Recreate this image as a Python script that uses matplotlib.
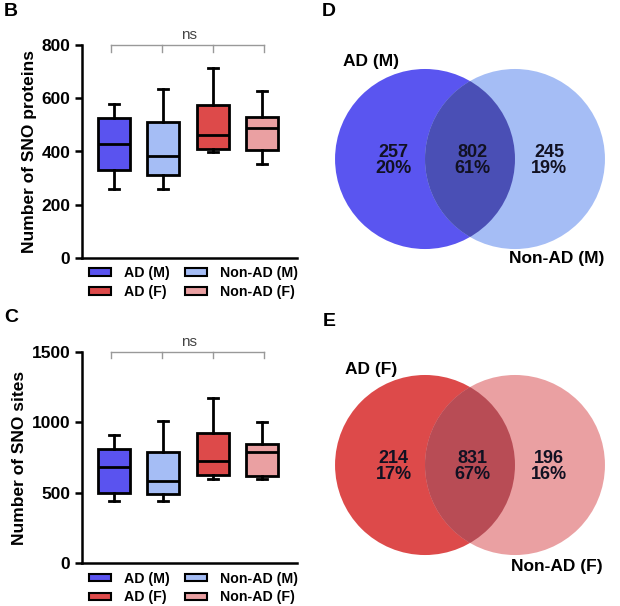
import matplotlib
matplotlib.use("Agg")
import matplotlib.pyplot as plt
from matplotlib.patches import Circle, Patch

plt.rcParams['font.family'] = ['Liberation Sans', 'DejaVu Sans']
plt.rcParams['font.weight'] = 'bold'

# groups / colours
groups = ['AD (M)', 'Non-AD (M)', 'AD (F)', 'Non-AD (F)']
box_colors = ['#5a53ef', '#a5bdf5', '#dd4a4a', '#eaa0a2']

# panel B - SNO proteins (box stats)
prot_whislo = [259, 259, 398, 353]
prot_q1 = [331, 312, 409, 406]
prot_med = [428, 383, 462, 488]
prot_q3 = [526, 511, 575, 530]
prot_whishi = [578, 635, 714, 627]

# panel C - SNO sites
site_whislo = [441, 441, 597, 597]
site_q1 = [498, 490, 626, 618]
site_med = [682, 583, 725, 789]
site_q3 = [810, 789, 924, 846]
site_whishi = [910, 1009, 1173, 1002]

# venn panels
venn_m_counts = [257, 802, 245]
venn_m_pct = ['20%', '61%', '19%']
venn_m_labels = ['AD (M)', 'Non-AD (M)']
venn_m_colors = ['#5a55f0', '#a5bdf5', '#4a4fb5']

venn_f_counts = [214, 831, 196]
venn_f_pct = ['17%', '67%', '16%']
venn_f_labels = ['AD (F)', 'Non-AD (F)']
venn_f_colors = ['#dd4a4a', '#eaa0a2', '#b84c55']

W, H = 620, 606
fig = plt.figure(figsize=(W/100, H/100), dpi=100)


def px_axes(x0, y0, x1, y1):
    # pixel box (top-left origin) -> figure axes
    return fig.add_axes([x0/W, 1 - y1/H, (x1-x0)/W, (y1-y0)/H])


def box_panel(ax, lo, q1, med, q3, hi, ymax, yticks, ylabel, br_drop, leg_y):
    stats = []
    for i in range(4):
        stats.append(dict(whislo=lo[i], q1=q1[i], med=med[i], q3=q3[i],
                          whishi=hi[i], fliers=[]))
    bp = ax.bxp(stats, positions=[1, 2, 3, 4], widths=0.65, patch_artist=True,
                showfliers=False, capwidths=0.2,
                boxprops=dict(linewidth=2, edgecolor='black'),
                medianprops=dict(color='black', linewidth=2),
                whiskerprops=dict(color='black', linewidth=2),
                capprops=dict(color='black', linewidth=2))
    for patch, c in zip(bp['boxes'], box_colors):
        patch.set_facecolor(c)
    ax.set_xlim(0.347, 4.714)
    ax.set_ylim(0, ymax)
    ax.set_yticks(yticks)
    ax.set_xticks([])
    for s in ['top', 'right']:
        ax.spines[s].set_visible(False)
    for s in ['left', 'bottom']:
        ax.spines[s].set_linewidth(1.8)
    ax.tick_params(axis='y', width=1.8, length=5, labelsize=12.5)
    for lab in ax.get_yticklabels():
        lab.set_fontweight('bold')
    ax.set_ylabel(ylabel, fontsize=12.5, fontweight='bold', labelpad=3)
    # ns bracket
    ax.plot([0.94, 4.04], [ymax, ymax], color='#999999', lw=1, clip_on=False)
    for xp in [0.94, 1.98, 3.0, 4.04]:
        ax.plot([xp, xp], [ymax, ymax - br_drop], color='#999999', lw=1,
                clip_on=False)
    ax.text(2.52, ymax * 1.012, 'ns', ha='center', va='bottom', fontsize=11,
            fontweight='normal', color='#444444')
    handles = [Patch(facecolor=c, edgecolor='black', linewidth=1.5)
               for c in box_colors]
    order = [0, 2, 1, 3]
    ax.legend([handles[i] for i in order], [groups[i] for i in order],
              ncol=2, loc='upper left', bbox_to_anchor=(-0.027, leg_y),
              frameon=False, handlelength=1.55, handleheight=0.45,
              columnspacing=1.1, handletextpad=0.9, labelspacing=0.35,
              prop=dict(weight='bold', size=10.2))


axB = px_axes(82, 45, 297, 258)
box_panel(axB, prot_whislo, prot_q1, prot_med, prot_q3, prot_whishi,
          800, [0, 200, 400, 600, 800], 'Number of SNO proteins', 26, 0.023)

axC = px_axes(82, 352, 297, 563)
box_panel(axC, site_whislo, site_q1, site_med, site_q3, site_whishi,
          1500, [0, 500, 1000, 1500], 'Number of SNO sites', 45, 0.02)


def venn_panel(ax, counts, pct, labels, colors, lab_y):
    left = Circle((-0.5, 0), 1, facecolor=colors[0], edgecolor='none')
    right = Circle((0.5, 0), 1, facecolor=colors[1], edgecolor='none')
    ax.add_patch(left)
    ax.add_patch(right)
    inter = Circle((-0.5, 0), 1, facecolor=colors[2], edgecolor='none')
    ax.add_patch(inter)
    inter.set_clip_path(right)
    for xp, n, p in zip([-0.85, 0.03, 0.88], counts, pct):
        ax.text(xp, -0.02, f'{n}\n{p}', ha='center', va='center',
                fontsize=13, fontweight='bold', color='#111122',
                linespacing=0.95)
    ax.text(-1.1, lab_y[0], labels[0], ha='center', va='center',
            fontsize=12.5, fontweight='bold')
    ax.text(0.96, lab_y[1], labels[1], ha='center', va='center',
            fontsize=12.5, fontweight='bold')
    ax.set_xlim(-1.556, 1.556)
    ax.set_ylim(-1.344, 1.322)
    ax.axis('off')


axD = px_axes(330, 40, 610, 280)
venn_panel(axD, venn_m_counts, venn_m_pct, venn_m_labels, venn_m_colors,
           [1.08, -1.1])
axE = px_axes(330, 346, 610, 586)
venn_panel(axE, venn_f_counts, venn_f_pct, venn_f_labels, venn_f_colors,
           [1.06, -1.13])

# panel letters
for txt, x, y in [('B', 11, 11), ('C', 11, 318), ('D', 329, 12),
                  ('E', 329, 322)]:
    fig.text(x/W, 1 - y/H, txt, ha='center', va='center', fontsize=14,
             fontweight='bold')

fig.savefig('out.png', dpi=100)
